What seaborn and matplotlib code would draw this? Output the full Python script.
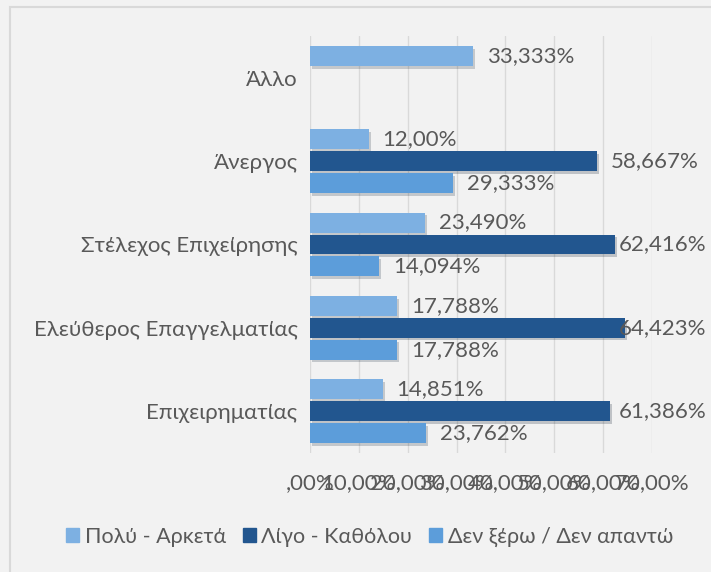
import matplotlib
matplotlib.use("Agg")
import matplotlib.pyplot as plt
import matplotlib.patheffects as pe
from matplotlib.patches import Rectangle
from matplotlib.transforms import offset_copy
import numpy as np
import pandas as pd
import seaborn as sns

# data
categories = ["Άλλο", "Άνεργος", "Στέλεχος Επιχείρησης",
              "Ελεύθερος Επαγγελματίας", "Επιχειρηματίας"]
series = ["Πολύ - Αρκετά", "Λίγο - Καθόλου", "Δεν ξέρω / Δεν απαντώ"]
poly_arketa = [33.333, 12.00, 23.490, 17.788, 14.851]
ligo_katholou = [np.nan, 58.667, 62.416, 64.423, 61.386]
den_xero = [np.nan, 29.333, 14.094, 17.788, 23.762]
label_poly = ["33,333%", "12,00%", "23,490%", "17,788%", "14,851%"]
label_ligo = ["", "58,667%", "62,416%", "64,423%", "61,386%"]
label_den = ["", "29,333%", "14,094%", "17,788%", "23,762%"]
xticks = [0, 10, 20, 30, 40, 50, 60, 70]
xtick_labels = [",00%", "10,00%", "20,00%", "30,00%", "40,00%", "50,00%", "60,00%", "70,00%"]
colors = ["#7DB0E2", "#22568F", "#5C9DDA"]

rows = []
for i, c in enumerate(categories):
    for s, vals in zip(series, [poly_arketa, ligo_katholou, den_xero]):
        rows.append({"cat": c, "series": s, "value": vals[i]})
df = pd.DataFrame(rows)

sns.set_style("white")
plt.rcParams["font.family"] = ["Lato", "DejaVu Sans"]
text_color = "#595959"
fs = 16

fig = plt.figure(figsize=(7.11, 5.72), dpi=100, facecolor="#F2F2F2")
ax = fig.add_axes([310 / 711, 1 - 452.6 / 572, (652 - 310) / 711, (452.6 - 36.4) / 572])
ax.set_facecolor("#F2F2F2")

# outer frame
fig.patches.append(Rectangle((10 / 711, -0.1), 1.2, 1 - 7 / 572 + 0.1,
                             transform=fig.transFigure, fill=False,
                             edgecolor="#D9D9D9", linewidth=1.5))

sns.barplot(data=df, y="cat", x="value", hue="series", order=categories,
            hue_order=series, palette=colors, orient="h", width=0.79, gap=0.09,
            saturation=1, ax=ax, legend=False)

shadow = [pe.SimplePatchShadow(offset=(1.5, -2), alpha=0.22), pe.Normal()]
for p in ax.patches:
    p.set_path_effects(shadow)
    p.set_edgecolor("none")

# data labels, matched to their category by bar position
tr = offset_copy(ax.transData, fig=fig, x=14, y=0, units="dots")
texts = []
for cont, labs in zip(ax.containers, [label_poly, label_ligo, label_den]):
    for bar in cont:
        if bar is None:
            continue
        y = bar.get_y() + bar.get_height() / 2
        lab = labs[int(round(y))]
        if not lab:
            continue
        t = ax.text(bar.get_x() + bar.get_width(), y, lab, transform=tr,
                    ha="left", va="center", fontsize=fs, color=text_color, clip_on=False)
        texts.append(t)

ax.set_xlim(0, 70)
ax.set_xticks(xticks)
ax.set_xticklabels(xtick_labels)
ax.grid(axis="x", color="#D9D9D9", linewidth=1)
ax.set_axisbelow(True)
for s in ax.spines.values():
    s.set_visible(False)
ax.tick_params(axis="x", length=0, pad=15, labelsize=fs, labelcolor=text_color)
ax.tick_params(axis="y", length=0, pad=9, labelsize=fs, labelcolor=text_color)
ax.set_xlabel("")
ax.set_ylabel("")

# keep labels inside the chart area, like Excel does
fig.canvas.draw()
renderer = fig.canvas.get_renderer()
right_limit = 706
for t in texts:
    bb = t.get_window_extent(renderer)
    if bb.x1 > right_limit:
        shift = bb.x1 - right_limit
        t.set_transform(offset_copy(ax.transData, fig=fig, x=14 - shift, y=0, units="dots"))

handles = [Rectangle((0, 0), 1, 1, color=c) for c in colors]
fig.legend(handles, series, loc="center", bbox_to_anchor=(0.52, 1 - 537 / 572),
           ncol=3, frameon=False, fontsize=15.5, labelcolor=text_color,
           handlelength=0.6, handleheight=0.6, handletextpad=0.25, columnspacing=0.8)

fig.savefig("out.png", dpi=100, facecolor=fig.get_facecolor())
